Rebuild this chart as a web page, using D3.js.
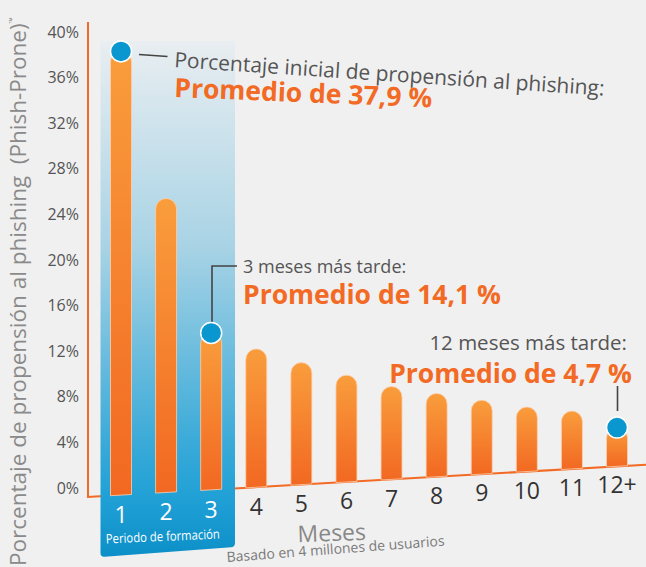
<!DOCTYPE html>
<html>
<head>
<meta charset="utf-8">
<script src="https://cdn.jsdelivr.net/npm/d3@7"></script>
<style>
  body { margin: 0; background: #f0f0f0; }
  svg { display: block; font-family: "Open Sans", sans-serif; }
</style>
</head>
<body>
<div id="chart-area"></div>
<script>
// datos
var months = ["1", "2", "3", "4", "5", "6", "7", "8", "9", "10", "11", "12+"];
var rates = [38.3, 25.4, 13.6, 12.2, 11.0, 9.9, 8.9, 8.3, 7.7, 7.1, 6.75, 5.3];
var marked = ["1", "3", "12+"];
var trainingMonths = ["1", "2", "3"];
var yTicks = [0, 4, 8, 12, 16, 20, 24, 28, 32, 36, 40];

var width = 646, height = 567;
var slope = 0.058;              // inclinacion de la linea base
var baseX = 88, baseY = 497;
var barW = 21;

function baseAt(px) { return baseY - slope * (px - baseX); }

var svg = d3.select("#chart-area").append("svg")
  .attr("width", width)
  .attr("height", height);

svg.append("rect").attr("width", width).attr("height", height).attr("fill", "#f0f0f0");

var defs = svg.append("defs");

var bandGrad = defs.append("linearGradient")
  .attr("id", "band")
  .attr("gradientUnits", "userSpaceOnUse")
  .attr("x1", 0).attr("x2", 0).attr("y1", 41).attr("y2", 557);
bandGrad.append("stop").attr("offset", 0).attr("stop-color", "#e9eef1");
bandGrad.append("stop").attr("offset", 0.4).attr("stop-color", "#a8d3e5");
bandGrad.append("stop").attr("offset", 0.78).attr("stop-color", "#3aaad8");
bandGrad.append("stop").attr("offset", 0.88).attr("stop-color", "#21a1d6");
bandGrad.append("stop").attr("offset", 1).attr("stop-color", "#0c8fc8");

var barGrad = defs.append("linearGradient")
  .attr("id", "bar")
  .attr("x1", 0).attr("x2", 0).attr("y1", 0).attr("y2", 1);
barGrad.append("stop").attr("offset", 0).attr("stop-color", "#f99d3c");
barGrad.append("stop").attr("offset", 1).attr("stop-color", "#f26822");

var x = d3.scalePoint()
  .domain(months)
  .range([121, 617]);

var y = d3.scaleLinear()
  .domain([0, 40])
  .range([488, 32]);

// eje y
var leftAxis = d3.axisLeft(y)
  .tickValues(yTicks)
  .tickSize(0)
  .tickPadding(0)
  .tickFormat(function(d) { return d + "%"; });

var gy = svg.append("g")
  .attr("transform", "translate(79,0)")
  .call(leftAxis);
gy.select(".domain").remove();
gy.selectAll("text")
  .attr("fill", "#555")
  .attr("font-size", "16px")
  .attr("font-family", "Open Sans");

svg.append("text")
  .attr("transform", "translate(26,566) rotate(-90)")
  .attr("font-size", "22.5px")
  .attr("fill", "#8a8a8a")
  .text("Porcentaje de propensión al phishing\u00a0 (Phish-Prone)")
  .append("tspan")
  .attr("font-size", "8px")
  .attr("dy", -11)
  .text("™");

// lineas de los ejes
svg.append("line")
  .attr("x1", baseX).attr("x2", baseX)
  .attr("y1", 22).attr("y2", baseY)
  .attr("stroke", "#f26a24").attr("stroke-width", 2);

svg.append("line")
  .attr("x1", baseX - 1).attr("x2", width)
  .attr("y1", baseY).attr("y2", baseAt(width))
  .attr("stroke", "#f26a24").attr("stroke-width", 2);

// zona del periodo de formacion
var bx0 = 100.5, bx1 = 235, r = 4;
var bb0 = 557, bb1 = 547;
svg.append("path")
  .attr("d", "M" + bx0 + ",41 L" + bx1 + ",41 L" + bx1 + "," + (bb1 - r) +
    " Q" + bx1 + "," + bb1 + " " + (bx1 - r) + "," + (bb1 + 0.3) +
    " L" + (bx0 + r) + "," + (bb0 - 0.3) +
    " Q" + bx0 + "," + bb0 + " " + bx0 + "," + (bb0 - r) + " Z")
  .attr("fill", "url(#band)");

// barras
function barPath(m, v) {
  var cx = x(m), l = cx - barW / 2, rr = cx + barW / 2, h = barW / 2;
  var top = y(v);
  return "M" + l + "," + baseAt(l) +
    " L" + l + "," + (top + h) +
    " A" + h + "," + h + " 0 0 1 " + rr + "," + (top + h) +
    " L" + rr + "," + baseAt(rr) + " Z";
}

svg.append("g").selectAll("path")
  .data(months)
  .enter().append("path")
  .attr("d", function(d, i) { return barPath(d, rates[i]); })
  .attr("fill", "url(#bar)")
  .attr("stroke", "#fbcfae")
  .attr("stroke-width", 0.8);

// conectores de las notas
var lineColor = "#444";
svg.append("line")
  .attr("x1", 139).attr("y1", 54.5).attr("x2", 167.5).attr("y2", 56.5)
  .attr("stroke", lineColor).attr("stroke-width", 1.6);
svg.append("polyline")
  .attr("points", "212,322 212,266 237,266")
  .attr("fill", "none")
  .attr("stroke", lineColor).attr("stroke-width", 1.6);
svg.append("line")
  .attr("x1", 617.5).attr("y1", 386).attr("x2", 617.5).attr("y2", 411)
  .attr("stroke", lineColor).attr("stroke-width", 1.6);

// puntos marcados
svg.append("g").selectAll("circle")
  .data(marked)
  .enter().append("circle")
  .attr("cx", function(d) { return x(d); })
  .attr("cy", function(d) { return y(rates[months.indexOf(d)]); })
  .attr("r", 10.5)
  .attr("fill", "#0a96cf")
  .attr("stroke", "#fff")
  .attr("stroke-width", 1.5);

// etiquetas del eje x
svg.append("g").selectAll("text")
  .data(months)
  .enter().append("text")
  .attr("x", function(d) { return x(d); })
  .attr("y", function(d) { return 523 - 0.06 * (x(d) - 120); })
  .attr("text-anchor", "middle")
  .attr("font-size", "23px")
  .attr("fill", function(d) { return trainingMonths.indexOf(d) >= 0 ? "#fff" : "#333"; })
  .text(function(d) { return d; });

svg.append("text")
  .attr("transform", "translate(163,541) rotate(-2.5)")
  .attr("text-anchor", "middle")
  .attr("font-size", "13px")
  .attr("textLength", 114)
  .attr("lengthAdjust", "spacingAndGlyphs")
  .attr("fill", "#fff")
  .text("Periodo de formación");

svg.append("text")
  .attr("transform", "translate(332,541) rotate(-2)")
  .attr("text-anchor", "middle")
  .attr("font-size", "23px")
  .attr("fill", "#888")
  .text("Meses");

svg.append("text")
  .attr("transform", "translate(227,562) rotate(-4.3)")
  .attr("font-size", "14px")
  .attr("fill", "#7a7a7a")
  .text("Basado en 4 millones de usuarios");

// notas
var grey = "#555", orange = "#f26a24";

svg.append("text")
  .attr("transform", "translate(174,67) rotate(3.8)")
  .attr("font-size", "21px")
  .attr("fill", grey)
  .text("Porcentaje inicial de propensión al phishing:");
svg.append("text")
  .attr("transform", "translate(174,97) rotate(2.3)")
  .attr("font-size", "26.5px")
  .attr("font-weight", "bold")
  .attr("fill", orange)
  .text("Promedio de 37,9 %");

svg.append("text")
  .attr("x", 243).attr("y", 273)
  .attr("font-size", "18px")
  .attr("fill", grey)
  .text("3 meses más tarde:");
svg.append("text")
  .attr("x", 243).attr("y", 304)
  .attr("font-size", "26.5px")
  .attr("font-weight", "bold")
  .attr("fill", orange)
  .text("Promedio de 14,1 %");

svg.append("text")
  .attr("x", 627).attr("y", 350)
  .attr("text-anchor", "end")
  .attr("font-size", "20.5px")
  .attr("fill", grey)
  .text("12 meses más tarde:");
svg.append("text")
  .attr("x", 632).attr("y", 383)
  .attr("text-anchor", "end")
  .attr("font-size", "26.5px")
  .attr("font-weight", "bold")
  .attr("fill", orange)
  .text("Promedio de 4,7 %");
</script>
</body>
</html>
